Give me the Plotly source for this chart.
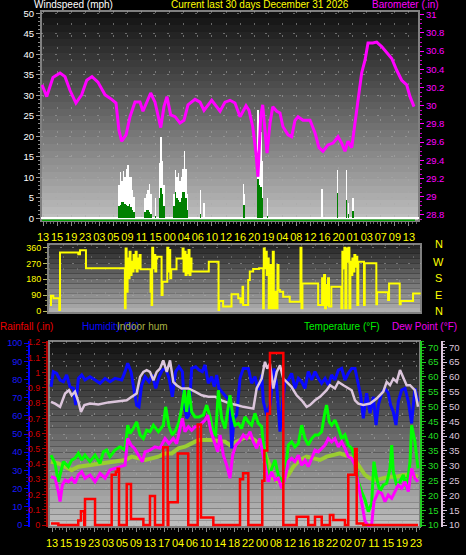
import numpy as np
import plotly.graph_objects as go

# ---------------- data ----------------
top_hours = ["13", "15", "19", "23", "03", "05", "09", "11", "15", "00", "04", "06", "10", "12",
             "16", "20", "19", "04", "08", "12", "16", "20", "01", "03", "07", "09", "13"]
bottom_hours = ["13", "15", "19", "23", "03", "05", "09", "13", "17", "04", "06", "10", "14", "18",
                "22", "00", "08", "12", "16", "18", "22", "02", "07", "11", "15", "19", "23"]
compass_labels = ["N", "W", "S", "E", "N"]

# Barometer (in) vs day
baro_day = [0.0, 0.38, 0.88, 1.45, 1.85, 2.25, 2.73, 3.19, 3.6, 4.02,
            4.5, 5.07, 5.6, 5.95, 6.19, 6.41, 6.76, 7.08, 7.48, 7.88,
            8.12, 8.42, 8.74, 9.09, 9.33, 9.55, 9.81, 10.05, 10.35, 10.7,
            11.1, 11.42, 11.74, 12.31, 12.71, 13.03, 13.65, 13.92, 14.32, 14.72,
            15.12, 15.52, 15.93, 16.41, 16.65, 16.95, 17.21, 17.37, 17.59, 17.75,
            17.94, 18.1, 18.34, 18.56, 18.88, 19.14, 19.38, 19.79, 20.08, 20.35,
            20.59, 20.99, 21.56, 21.96, 22.28, 22.6, 23.0, 23.41, 23.81, 24.1,
            24.37, 24.61, 24.91, 25.17, 25.42, 25.71, 25.98, 26.22, 26.6, 26.92,
            27.32, 27.72, 28.13, 28.53, 28.93, 29.33, 29.6, 29.92]
baro_in = [30.23, 30.10, 30.31, 30.36, 30.32, 30.17, 30.03, 30.12, 30.28, 30.32,
           30.26, 30.12, 30.07, 30.03, 29.73, 29.61, 29.68, 29.88, 30.04, 30.04,
           29.94, 30.04, 30.14, 30.04, 29.88, 29.76, 29.99, 30.10, 29.90, 29.88,
           29.81, 29.84, 30.01, 30.07, 30.04, 29.95, 30.06, 30.01, 29.94, 30.04,
           30.06, 30.03, 29.88, 30.00, 29.95, 29.77, 29.48, 29.22, 29.88, 30.01,
           29.70, 29.48, 29.81, 29.99, 29.94, 29.92, 29.77, 29.68, 29.66, 29.84,
           29.88, 29.84, 29.84, 29.70, 29.54, 29.50, 29.57, 29.59, 29.66, 29.59,
           29.50, 29.61, 29.54, 29.81, 30.09, 30.36, 30.50, 30.69, 30.69, 30.70,
           30.65, 30.59, 30.52, 30.39, 30.28, 30.23, 30.10, 29.99]

# Wind (mph)
wind_day = [6.19, 6.31, 6.43, 6.55, 6.68, 6.8, 6.92, 7.04, 7.16, 7.28, 7.4,
            8.28, 8.4, 8.53, 8.65, 8.77, 9.13,
            9.45, 9.57, 9.69, 9.81,
            10.62, 10.74, 10.86, 10.98, 11.1, 11.22, 11.34, 11.46, 11.58, 11.7,
            12.76, 13.05, 16.2, 16.29, 17.37, 17.5, 17.62, 17.74, 18.15,
            22.5, 23.78, 24.5, 24.66, 24.99]
wind_gust = [8, 11.4, 9, 11.5, 10, 12, 13, 10, 10, 7, 5.3,
             5, 6, 7, 8.4, 6, 5,
             13.6, 19.8, 14, 8,
             6, 11.8, 10, 11, 9, 10, 12, 16.3, 12, 6,
             6.9, 3.7, 8.3, 6, 26.4, 21, 21, 14, 5,
             7.1, 11.8, 11.8, 3.7, 5]
wind_avg = [3, 3.2, 4, 4, 3.5, 3.2, 3, 3.5, 2.8, 2, 1.5,
            1.5, 2, 2, 1.5, 1, 0.5,
            5, 7.4, 6, 3,
            3, 6.5, 5, 4.5, 4, 5, 6.5, 6.5, 5, 2,
            1, 0, 3.2, 3.2, 9.6, 8, 7.7, 5, 0.5,
            0, 6.2, 4.5, 1, 1.8]

# Wind direction (degrees)
dir_day = [0, 0.08, 0.27, 0.70, 0.75, 0.81, 2.29, 2.43, 2.91, 6.06,
           6.12, 6.2, 6.28, 6.36, 6.44, 6.52, 6.6, 6.68, 6.76, 6.85,
           6.93, 7.01, 7.09, 7.17, 7.25, 7.33, 8.09, 8.14, 8.22, 8.27,
           8.35, 8.44, 8.52, 8.6, 8.68, 8.95, 9.03, 9.11, 9.43, 9.49,
           9.57, 9.65, 9.73, 9.81, 10.24, 10.65, 10.73, 10.81, 10.89, 10.97,
           11.05, 11.13, 11.21, 11.29, 11.37, 11.45, 12.8, 12.85, 13.61, 13.64,
           13.69, 14.01, 14.69, 15.23, 15.42, 15.58, 15.63, 16.04, 16.17, 16.44,
           16.92, 17.25, 17.3, 17.38, 17.46, 17.54, 17.62, 17.7, 17.79, 17.87,
           17.95, 18.03, 18.11, 18.19, 18.33, 18.41, 18.49, 18.6, 18.87, 19.4,
           20.21, 20.27, 20.35, 20.43, 21.7, 22.02, 22.1, 22.18, 22.26, 22.34,
           22.42, 22.5, 22.58, 22.77, 23.5, 23.58, 23.66, 23.74, 23.82, 23.9,
           23.99, 24.07, 24.15, 24.23, 24.31, 24.39, 24.47, 24.55, 24.63, 24.71,
           24.79, 24.87, 24.95, 25.33, 25.41, 25.47, 26.36, 26.41, 26.47, 27.36,
           27.44, 28.3, 28.38, 29.38, 30.0]
dir_deg = [34, 87, 72, 72, 6, 332, 322, 345, 243, 15,
           356, 110, 299, 186, 337, 205, 280, 224, 318, 243,
           337, 224, 299, 243, 318, 237, 237, 110, 34, 360,
           243, 318, 224, 299, 309, 309, 91, 167, 167, 360,
           224, 347, 186, 237, 299, 299, 356, 224, 337, 205,
           318, 214, 347, 205, 299, 224, 224, 280, 280, 6,
           57, 25, 95, 72, 49, 138, 34, 176, 224, 239,
           243, 15, 356, 243, 337, 205, 299, 15, 262, 110,
           15, 337, 15, 110, 15, 262, 119, 110, 81, 53,
           53, 360, 15, 157, 34, 186, 34, 205, 15, 148,
           34, 186, 25, 138, 138, 15, 337, 243, 360, 15,
           356, 280, 360, 15, 280, 205, 299, 224, 318, 252,
           309, 34, 280, 280, 34, 271, 271, 38, 106, 63,
           157, 38, 57, 100, 100]

# Rainfall (in)
rain_day = [0, 0.6, 2.23, 2.45, 2.72, 2.78, 3.6, 4.96, 5.3, 5.45,
            5.56, 6.19, 6.54, 7.55, 8.09, 8.5, 9.18, 9.54, 9.59, 10.36,
            11.22, 11.99, 12.26, 13.27, 15.45, 15.7, 16.13, 17.27, 17.44, 17.68,
            17.9, 18.99, 20.08, 21.03, 21.58, 22.13, 22.8, 23.08, 24.03, 24.3,
            24.85, 24.99, 25.53, 30]
rain_in = [0.01, 0, 0.03, 0.09, 0, 0.17, 0, 0.33, 0.35, 0.37,
           0, 0.27, 0.04, 0, 0.19, 0, 0.51, 0, 0.15, 0.47,
           0, 0.66, 0.05, 0, 0.30, 0.34, 0, 0.29, 0.49, 0.73,
           1.13, 0, 0.055, 0, 0.055, 0, 0.066, 0.033, 0, 0.33,
           0.50, 0.01, 0, 0]

# Outdoor humidity (%)
hum_day = [0.0, 0.19, 0.46, 0.74, 1.01, 1.28, 1.55, 1.83, 2.02, 2.24,
           2.51, 2.78, 3.19, 3.6, 4.01, 4.42, 4.82, 5.23, 5.78, 6.05,
           6.27, 6.54, 6.73, 7.0, 7.19, 7.41, 7.69, 8.01, 8.28, 8.56,
           8.83, 9.1, 9.37, 9.65, 9.92, 10.19, 10.46, 10.74, 10.9, 11.09,
           11.28, 11.5, 11.83, 12.1, 12.37, 12.59, 12.86, 13.13, 13.35, 13.54,
           13.73, 13.95, 14.23,
           14.63, 14.77, 14.96, 15.18, 15.45, 15.72, 16.13, 16.4, 16.67, 16.95,
           17.22, 17.36, 17.63, 17.9, 18.23, 18.45, 18.72, 18.94, 19.13, 19.4,
           19.67, 19.94, 20.22, 20.49, 20.76, 21.03, 21.31, 21.58, 21.85, 22.12,
           22.4, 22.67, 22.94, 23.21, 23.49, 23.76, 24.03, 24.3, 24.58, 24.85,
           25.12, 25.31, 25.53, 25.8, 26.08, 26.35, 26.57, 26.76, 27.03, 27.3,
           27.57, 27.76, 27.98, 28.2, 28.39, 28.66, 28.94, 29.21, 29.48, 29.75,
           30.0]
hum_pct = [76.1, 84.4, 83.5, 79.8, 78.9, 82.6, 76.1, 75.2, 66.0, 80.7,
           82.6, 79.8, 81.6, 79.8, 78.0, 80.7, 78.9, 80.7, 79.8, 84.4,
           89.0, 84.4, 76.1, 66.0, 65.1, 77.0, 81.6, 78.9, 82.6, 75.2,
           81.6, 85.3, 86.2, 80.7, 70.6, 84.4, 87.1, 84.4, 66.0, 58.7,
           60.5, 86.2, 87.1, 85.3, 84.4, 88.1, 78.0, 81.6, 76.1, 82.6,
           75.2, 73.4, 71.5,
           67.9, 42.2, 58.7, 60.5, 80.7, 86.2, 86.2, 78.0, 81.6, 74.3,
           82.6, 67.9, 60.5, 66.0, 86.2, 77.0, 51.4, 67.9, 78.9, 79.8,
           83.5, 75.2, 80.7, 78.9, 75.2, 84.4, 79.8, 84.4, 80.7, 78.0,
           80.7, 77.0, 82.6, 79.8, 85.3, 86.2, 79.8, 83.5, 86.2, 86.2,
           77.0, 71.5, 58.7, 72.5, 61.5, 70.6, 55.0, 66.0, 72.5, 75.2,
           72.5, 66.0, 62.4, 55.0, 67.9, 74.3, 75.2, 67.9, 55.9, 75.2,
           67.9]

# Indoor humidity (%)
inhum_day = [0.0, 0.6, 1.15, 1.69, 2.24, 2.78, 3.6, 4.42, 5.23, 6.05,
             6.6, 7.14, 7.69, 8.23, 8.78, 9.32, 9.87, 10.41, 10.95, 11.5,
             12.05, 12.59, 13.13, 13.68, 14.23,
             14.63, 15.18, 15.72, 16.27, 16.81, 17.36, 17.63, 17.9, 18.17, 18.58,
             18.99, 19.4, 19.81, 20.35, 20.9, 21.44, 21.99, 22.53, 23.08, 23.62,
             24.03, 24.44, 24.85, 25.26, 25.67, 26.08, 26.62, 27.16, 27.71, 28.26,
             28.8, 29.35, 30.0]
inhum_pct = [34.8, 33.9, 32.1, 30.2, 32.1, 32.6, 33.0, 33.9, 34.8, 35.8,
             37.6, 36.7, 35.8, 36.7, 37.6, 39.4, 39.4, 42.2, 43.1, 44.9,
             46.8, 46.8, 46.8, 46.2, 45.9,
             44.0, 45.9, 47.7, 48.6, 45.9, 43.1, 36.7, 32.1, 25.7, 23.8,
             24.8, 27.5, 32.1, 35.8, 37.6, 36.7, 35.8, 37.6, 38.5, 39.4,
             38.5, 37.6, 35.8, 32.1, 27.5, 25.7, 24.8, 25.7, 26.6, 26.6,
             27.5, 27.5, 26.6]

# Indoor temperature (F) - light thistle line
intemp_day = [0.0, 0.33, 0.74, 1.15, 1.47, 1.69, 1.96, 2.24, 2.45, 2.73,
              3.19, 3.87, 4.69, 5.51, 6.19, 6.6, 7.0, 7.28, 7.55, 7.82,
              8.09, 8.37, 8.64, 8.91, 9.18, 9.46, 9.73, 10.0, 10.27, 10.68,
              11.23, 11.77, 12.32, 12.86, 13.41, 13.95,
              14.63, 15.18, 15.72, 16.54, 16.81, 17.22, 17.49, 17.68, 17.9, 18.17,
              18.45, 18.72, 18.99, 19.26, 19.67, 20.08, 20.49, 20.9, 21.17, 21.58,
              21.99, 22.53, 22.81, 23.21, 23.49, 23.9, 24.3, 24.58, 24.85, 25.12,
              25.53, 26.08, 26.62, 27.16, 27.44, 27.71, 27.98, 28.26, 28.53, 28.8,
              29.07, 29.35, 29.75, 30.0]
intemp_f = [51.6, 51.0, 49.9, 54.4, 55.5, 53.8, 55.0, 51.6, 48.2, 50.5,
            51.0, 50.7, 51.4, 51.8, 52.1, 53.3, 54.4, 60.0, 61.7, 62.3,
            61.7, 58.9, 61.7, 62.8, 65.6, 61.7, 65.6, 58.3, 57.2, 56.1,
            56.1, 55.0, 53.8, 53.3, 53.3, 52.1,
            51.0, 50.5, 49.9, 49.3, 56.1, 59.4, 65.1, 62.8, 64.5, 56.1,
            61.7, 63.9, 59.4, 58.3, 56.6, 53.8, 52.1, 49.9, 50.5, 52.1,
            53.3, 55.5, 57.2, 56.1, 58.3, 57.2, 56.1, 55.5, 52.1, 51.0,
            50.5, 51.0, 52.7, 55.0, 58.3, 57.2, 59.4, 58.3, 62.3, 60.0,
            57.2, 57.2, 55.5, 49.9]

# Outdoor temperature (F)
temp_day = [0.0, 0.33, 0.6, 0.82, 1.01, 1.42, 1.69, 1.96, 2.24, 2.51,
            2.78, 3.19, 3.6, 4.01, 4.28, 4.55, 4.82, 5.23, 5.64, 6.05,
            6.27, 6.46, 6.73, 7.0, 7.28, 7.55, 7.82, 8.09, 8.37, 8.78,
            9.18, 9.37, 9.65, 9.92, 10.19, 10.46, 10.68, 10.9, 11.09, 11.28,
            11.5, 11.77, 12.1, 12.45, 12.73, 13.0, 13.27, 13.46, 13.68, 13.95,
            14.23,
            14.63, 14.85, 15.04, 15.31, 15.58, 15.86, 16.13, 16.4, 16.67, 16.95,
            17.22, 17.36, 17.57, 17.76, 18.04, 18.31, 18.58, 18.85, 19.13, 19.4,
            19.67, 19.94, 20.22, 20.49, 20.76, 21.03, 21.31, 21.58, 21.85, 22.12,
            22.4, 22.53, 22.75, 22.94, 23.21, 23.49, 23.76, 24.03, 24.3, 24.58,
            24.85, 25.12, 25.39, 25.67, 25.94, 26.21, 26.4, 26.62, 26.89, 27.16,
            27.44, 27.71, 27.85, 27.98, 28.26, 28.53, 28.8, 29.07, 29.35, 29.48,
            29.75, 30.0]
temp_f = [33.6, 30.8, 24.6, 28.0, 31.4, 29.7, 31.9, 32.5, 34.2, 31.9,
          33.6, 31.4, 33.6, 30.8, 34.7, 35.3, 33.1, 35.3, 36.4, 35.3,
          43.7, 40.9, 42.6, 44.8, 40.4, 39.2, 42.0, 41.5, 43.7, 41.5,
          43.7, 49.9, 43.2, 40.4, 42.0, 44.8, 49.3, 55.5, 48.2, 55.5,
          48.2, 46.5, 46.5, 47.1, 50.5, 46.5, 40.9, 40.4, 55.5, 46.0,
          42.6,
          53.8, 47.1, 43.7, 44.3, 42.6, 46.5, 44.8, 43.7, 47.7, 44.3,
          43.2, 37.0, 32.5, 25.8, 29.1, 31.9, 26.9, 24.6, 27.4, 37.0,
          38.1, 36.4, 37.5, 43.7, 39.2, 37.0, 39.2, 40.4, 40.4, 41.5,
          48.2, 50.5, 44.8, 43.7, 45.4, 42.6, 39.2, 40.4, 37.0, 35.9,
          32.5, 24.6, 21.3, 18.5, 14.5, 17.3, 31.4, 25.8, 21.3, 23.5,
          24.1, 29.1, 37.0, 28.0, 23.5, 24.6, 26.9, 22.4, 31.4, 43.7,
          38.1, 29.1]

# Dew point (F)
dew_day = [0.0, 0.33, 0.6, 0.74, 0.93, 1.15, 1.42, 1.69, 1.96, 2.24,
           2.51, 2.78, 3.19, 3.6, 4.01, 4.42, 4.82, 5.23, 5.64, 6.05,
           6.27, 6.54, 6.81, 7.14, 7.47, 7.69, 8.09, 8.5, 8.91, 9.32,
           9.65, 10.0, 10.27, 10.55, 10.74, 10.95, 11.23, 11.5, 11.77, 12.05,
           12.32, 12.59, 12.81, 13.08, 13.35, 13.63, 13.82, 14.09, 14.36,
           14.63, 14.85, 15.12, 15.39, 15.72, 15.99, 16.27, 16.54, 16.81, 17.08,
           17.36, 17.57, 17.76, 18.04, 18.31, 18.58, 18.85, 19.13, 19.4, 19.67,
           19.94, 20.22, 20.49, 20.76, 21.03, 21.31, 21.58, 21.85, 22.12, 22.4,
           22.67, 22.94, 23.21, 23.49, 23.76, 24.03, 24.3, 24.58, 24.85, 25.12,
           25.39, 25.67, 25.94, 26.21, 26.4, 26.76, 27.03, 27.3, 27.57, 27.85,
           28.12, 28.39, 28.66, 28.94, 29.21, 29.48, 29.75, 30.0]
dew_f = [26.3, 25.8, 21.3, 17.9, 23.5, 25.2, 24.6, 25.8, 24.1, 26.9,
         28.0, 25.8, 26.9, 24.6, 27.4, 25.8, 28.6, 29.1, 29.7, 30.2,
         39.2, 37.0, 35.9, 33.6, 31.4, 34.7, 35.3, 36.4, 35.9, 39.2,
         37.5, 39.2, 37.5, 42.6, 46.0, 41.5, 43.2, 42.0, 43.2, 43.2,
         44.3, 45.4, 47.1, 41.5, 38.1, 34.7, 40.4, 33.6, 30.2,
         25.8, 33.6, 37.0, 38.1, 40.4, 39.2, 41.5, 38.1, 35.9, 39.2,
         33.6, 29.1, 24.6, 28.0, 25.2, 25.8, 22.4, 25.8, 31.4, 32.5,
         31.4, 33.6, 30.2, 31.9, 29.7, 32.5, 35.3, 34.7, 35.9, 37.0,
         39.2, 38.1, 39.2, 36.4, 38.1, 35.9, 33.1, 32.5, 30.2, 23.5,
         17.9, 11.2, 9.8, 10.0, 17.9, 21.3, 20.7, 17.9, 20.1, 19.0,
         21.3, 23.5, 22.4, 24.6, 21.3, 29.1, 25.8, 24.6]

# ---------------- layout helpers ----------------
W, H = 466, 555
FONT = "Liberation Sans, Arial, sans-serif"


def fx(p):
    return p / W


def fy(p):
    return 1 - p / H


def gradient(x0, x1, y0, y1, c0, c1, n=30):
    out = []
    for i in range(n):
        t = i / (n - 1)
        c = tuple(int(round(c0[k] + (c1[k] - c0[k]) * t)) for k in range(3))
        ya = y0 + (y1 - y0) * i / n
        yb = y0 + (y1 - y0) * (i + 1) / n
        out.append(dict(type="rect", xref="paper", yref="paper",
                        x0=fx(x0), x1=fx(x1), y0=fy(yb), y1=fy(ya),
                        fillcolor="rgb(%d,%d,%d)" % c, line_width=0, layer="below"))
    return out


def frame(x0, x1, y0, y1):
    return dict(type="rect", xref="paper", yref="paper", x0=fx(x0), x1=fx(x1),
                y0=fy(y1), y1=fy(y0), line=dict(color="#808080", width=2),
                fillcolor="rgba(0,0,0,0)", layer="below")


GRID = "rgba(170,170,170,0.55)"

fig = go.Figure()

# ---- top panel ----
fig.add_trace(go.Bar(x=wind_day, y=wind_gust, width=0.13, marker=dict(color="white", line_width=0),
                     xaxis="x", yaxis="y", name="Gust"))
fig.add_trace(go.Bar(x=wind_day, y=wind_avg, width=0.13, marker=dict(color="#008000", line_width=0),
                     xaxis="x", yaxis="y", name="Wind"))
fig.add_trace(go.Scatter(x=baro_day, y=baro_in, mode="lines", line=dict(color="#ff00ff", width=3),
                         xaxis="x", yaxis="y2", name="Barometer"))

# ---- middle panel ----
fig.add_trace(go.Scatter(x=dir_day, y=dir_deg, mode="lines",
                         line=dict(color="#ffff00", width=2, shape="hv"),
                         xaxis="x2", yaxis="y3", name="Direction"))

# ---- bottom panel ----
fig.add_trace(go.Scatter(x=inhum_day, y=inhum_pct, mode="lines", line=dict(color="#9acd32", width=4),
                         xaxis="x3", yaxis="y5", name="Indoor hum"))
fig.add_trace(go.Scatter(x=hum_day, y=hum_pct, mode="lines", line=dict(color="#0a0aff", width=3),
                         xaxis="x3", yaxis="y5", name="Humidity"))
fig.add_trace(go.Scatter(x=intemp_day, y=intemp_f, mode="lines", line=dict(color="#dcc6dc", width=2.5),
                         xaxis="x3", yaxis="y6", name="Indoor temp"))
fig.add_trace(go.Scatter(x=temp_day, y=temp_f, mode="lines", line=dict(color="#00ff00", width=3),
                         xaxis="x3", yaxis="y7", name="Temperature"))
fig.add_trace(go.Scatter(x=dew_day, y=dew_f, mode="lines", line=dict(color="#ff00ff", width=3),
                         xaxis="x3", yaxis="y7", name="Dew Point"))
fig.add_trace(go.Scatter(x=rain_day, y=rain_in, mode="lines", line=dict(color="#ff0000", width=2.5, shape="hv"),
                         xaxis="x3", yaxis="y8", name="Rainfall"))

top_tv = list(np.linspace(0.0804, 29.517, 27))
top_sp = top_tv[1] - top_tv[0]
mid_tv = list(np.linspace(-0.08, 29.45, 27))
bot_tv = list(np.linspace(0.0817, 29.837, 27))
bot_sp = bot_tv[1] - bot_tv[0]

yellow = "#ffff00"

shapes = []
shapes += gradient(41, 419, 11, 221, (18, 18, 18), (190, 190, 190))
shapes += gradient(48, 421, 244, 313, (38, 38, 38), (175, 175, 175), n=14)
shapes += gradient(49, 420, 341, 527, (18, 18, 18), (190, 190, 190))
shapes += [frame(41, 419, 11, 221), frame(48, 421, 244, 313), frame(49, 420, 341, 527)]
# thin green base line under the white wind baseline
shapes.append(dict(type="line", xref="paper", yref="paper", x0=fx(42), x1=fx(415),
                   y0=fy(220.3), y1=fy(220.3), line=dict(color="#00a000", width=1.5), layer="above"))

fig.update_layout(
    width=W, height=H, autosize=False,
    margin=dict(l=0, r=0, t=0, b=0),
    paper_bgcolor="black", plot_bgcolor="black",
    showlegend=False, barmode="overlay", bargap=0,
    font=dict(family=FONT, size=10, color="white"),
    shapes=shapes,
    xaxis=dict(domain=[fx(41), fx(419)], range=[-0.0804, 30.322], anchor="y",
               tickmode="array", tickvals=top_tv, ticktext=top_hours, tickangle=0,
               tickfont=dict(family=FONT, size=11, color=yellow),
               ticks="outside", ticklen=4, tickcolor="#8a8a8a", ticklabelstandoff=2,
               minor=dict(ticks="outside", ticklen=2, tickcolor="#6a6a6a",
                          tickmode="linear", tick0=0.0804, dtick=top_sp / 4, showgrid=False),
               showgrid=True, gridcolor=GRID, griddash="2px,10px", gridwidth=1,
               zeroline=False, showline=False, automargin=False, fixedrange=True),
    yaxis=dict(domain=[fy(221), fy(11)], range=[-0.66, 50.56], anchor="x",
               tickmode="linear", tick0=0, dtick=5,
               tickfont=dict(family=FONT, size=9.5, color="white"),
               ticks="outside", ticklen=4, tickcolor="#9a9a9a",
               minor=dict(ticks="outside", ticklen=2, tickcolor="#8a8a8a", tick0=0, dtick=1, showgrid=False),
               showgrid=True, gridcolor=GRID, griddash="2px,12px", gridwidth=1,
               zeroline=True, zerolinecolor="white", zerolinewidth=2,
               showline=False, automargin=False, fixedrange=True),
    yaxis2=dict(overlaying="y", side="right", anchor="x", range=[28.734, 31.041],
                tickmode="linear", tick0=28.8, dtick=0.2,
                tickfont=dict(family=FONT, size=9.5, color="#ff00ff"),
                ticks="outside", ticklen=4, tickcolor="#ff00ff",
                minor=dict(ticks="outside", ticklen=2, tickcolor="#cc00cc", dtick=0.05, showgrid=False),
                showgrid=False, zeroline=False, showline=False, automargin=False, fixedrange=True),
    xaxis2=dict(domain=[fx(48), fx(421)], range=[-0.162, 30.024], anchor="y3",
                tickmode="array", tickvals=mid_tv, showticklabels=False, ticks="",
                showgrid=True, gridcolor="rgba(170,170,170,0.35)", griddash="2px,10px",
                zeroline=False, showline=False, automargin=False, fixedrange=True),
    yaxis3=dict(domain=[fy(313), fy(244)], range=[-11.4, 381], anchor="x2",
                tickmode="array", tickvals=[0, 90, 180, 270, 360],
                tickfont=dict(family=FONT, size=9, color=yellow),
                ticks="outside", ticklen=4, tickcolor="#b8b860",
                minor=dict(ticks="outside", ticklen=2, tickcolor="#8a8a50", tickmode="linear",
                           tick0=0, dtick=30, showgrid=False),
                showgrid=True, gridcolor=GRID, griddash="2px,10px",
                zeroline=False, showline=False, automargin=False, fixedrange=True),
    xaxis3=dict(domain=[fx(49), fx(420)], range=[-0.1635, 30.164], anchor="y5",
                tickmode="array", tickvals=bot_tv, ticktext=bottom_hours, tickangle=0,
                tickfont=dict(family=FONT, size=11, color=yellow),
                ticks="outside", ticklen=4, tickcolor="#8a8a8a", ticklabelstandoff=2,
                minor=dict(ticks="outside", ticklen=2, tickcolor="#6a6a6a",
                           tickmode="linear", tick0=0.0817, dtick=bot_sp / 4, showgrid=False),
                showgrid=True, gridcolor=GRID, griddash="2px,10px",
                zeroline=False, showline=False, automargin=False, fixedrange=True),
    yaxis5=dict(domain=[fy(527), fy(341)], anchor="free", position=fx(29), side="left",
                range=[-1.1, 101.27], tickmode="linear", tick0=0, dtick=10,
                tickfont=dict(family=FONT, size=9, color="#1a1aff"),
                showline=True, linecolor="#0000ff", linewidth=2,
                ticks="outside", ticklen=4, tickcolor="#0000ff",
                minor=dict(ticks="outside", ticklen=2, tickcolor="#0000dd", dtick=2, showgrid=False),
                showgrid=True, gridcolor=GRID, griddash="2px,12px",
                zeroline=False, automargin=False, fixedrange=True),
    yaxis6=dict(overlaying="y5", anchor="free", position=fx(442), side="right",
                range=[9.325, 72.13], tickmode="linear", tick0=10, dtick=5,
                tickfont=dict(family=FONT, size=9.5, color="#dcc6dc"),
                showline=True, linecolor="#dcc6dc", linewidth=2,
                ticks="outside", ticklen=4, tickcolor="#dcc6dc",
                minor=dict(ticks="outside", ticklen=2, tickcolor="#b8a4b8", dtick=1, showgrid=False),
                showgrid=False, zeroline=False, automargin=False, fixedrange=True),
    yaxis7=dict(overlaying="y5", anchor="x3", side="right",
                range=[9.325, 72.13], tickmode="linear", tick0=10, dtick=5,
                tickfont=dict(family=FONT, size=9.5, color="#22dd22"),
                showline=True, linecolor="#22cc22", linewidth=2,
                ticks="outside", ticklen=4, tickcolor="#22cc22",
                minor=dict(ticks="outside", ticklen=2, tickcolor="#1aa01a", dtick=1, showgrid=False),
                showgrid=False, zeroline=False, automargin=False, fixedrange=True),
    yaxis8=dict(overlaying="y5", anchor="free", position=fx(47), side="left",
                range=[-0.0131, 1.2085], tickmode="linear", tick0=0, dtick=0.1,
                tickfont=dict(family=FONT, size=9, color="#d00000"),
                showline=True, linecolor="#b00000", linewidth=2,
                ticks="outside", ticklen=4, tickcolor="#b00000",
                minor=dict(ticks="outside", ticklen=2, tickcolor="#900000", dtick=0.02, showgrid=False),
                showgrid=False, zeroline=False, automargin=False, fixedrange=True),
)

ann = [
    ("Windspeed (mph)", 73.5, 4, "white"),
    ("Current last 30 days December 31 2026", 259.5, 4, "#ffff00"),
    ("Barometer (.in)", 405, 4, "#ff00ff"),
    ("Rainfall (.in)", 26.5, 326, "#ee0000"),
    ("Humidity (%)", 110.6, 326, "#0a0aff"),
    ("Indoor hum", 142.3, 326, "#a8b040"),
    ("Temperature (°F)", 342, 326, "#00ee00"),
    ("Dew Point (°F)", 424.5, 326, "#ee00ee"),
]
for text, xc, yc, col in ann:
    fig.add_annotation(text=text, xref="paper", yref="paper", x=fx(xc), y=fy(yc),
                       xanchor="center", yanchor="middle", showarrow=False,
                       font=dict(family=FONT, size=10, color=col))

# compass letters to the right of the wind-direction panel
for lab, yc in zip(compass_labels, [244, 261.7, 278, 295, 311]):
    fig.add_annotation(text=lab, xref="paper", yref="paper", x=fx(438.5), y=fy(yc),
                       xanchor="center", yanchor="middle", showarrow=False,
                       font=dict(family=FONT, size=11, color=yellow))

fig.write_html("out.html", config={"displayModeBar": False, "staticPlot": True},
               post_script="document.body.style.margin='0px';document.body.style.overflow='hidden';")
